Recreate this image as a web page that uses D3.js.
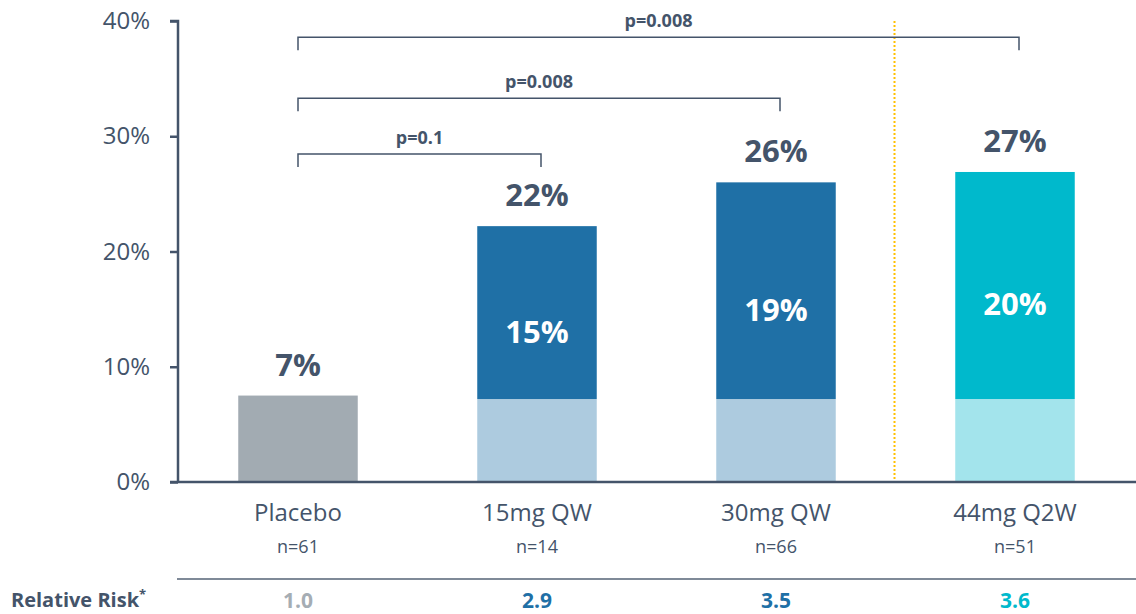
<!DOCTYPE html>
<html>
<head>
<meta charset="utf-8">
<script src="https://cdn.jsdelivr.net/npm/d3@7"></script>
<style>
  body { margin: 0; background: #fff; }
  svg { font-family: "Open Sans", Lato, sans-serif; }
</style>
</head>
<body>
<svg width="1136" height="614"></svg>
<script>
// data
var groups = ["Placebo", "15mg QW", "30mg QW", "44mg Q2W"];
var sizes = ["n=61", "n=14", "n=66", "n=51"];
var totals = [7.5, 22.2, 26.0, 26.9];
var baseRate = [7.5, 7.2, 7.2, 7.2];
var totalLabels = ["7%", "22%", "26%", "27%"];
var excessLabels = ["", "15%", "19%", "20%"];
var relRisk = ["1.0", "2.9", "3.5", "3.6"];
var yTicks = [0, 10, 20, 30, 40];
var pTests = [
  { from: "Placebo", to: "15mg QW", label: "p=0.1", level: 28.45 },
  { from: "Placebo", to: "30mg QW", label: "p=0.008", level: 33.3 },
  { from: "Placebo", to: "44mg Q2W", label: "p=0.008", level: 38.6 }
];

var dark = "#44546a";
var topColors = ["#a2abb2", "#1f70a6", "#1f70a6", "#00b9cc"];
var baseColors = ["#a2abb2", "#adcbdf", "#adcbdf", "#a3e4ec"];
var rrColors = ["#a5adb4", "#1f70a6", "#1f70a6", "#00b9cc"];

var svg = d3.select("svg");

var xScale = d3.scaleBand()
  .domain(groups)
  .range([178.5, 1134.5])
  .paddingInner(0.5)
  .paddingOuter(0.25);

var yScale = d3.scaleLinear()
  .domain([0, 40])
  .range([482, 21]);

var cx = function(g) { return xScale(g) + xScale.bandwidth() / 2; };

// y axis
var yAxis = d3.axisLeft(yScale)
  .tickValues(yTicks)
  .tickFormat(function(d) { return d + "%"; })
  .tickSize(8)
  .tickPadding(20);

var ya = svg.append("g")
  .attr("transform", "translate(178,0)")
  .call(yAxis);
ya.select(".domain").attr("stroke", dark).attr("stroke-width", 2.5)
  .attr("d", "M-8," + yScale(40) + "H0V" + yScale(0));
ya.selectAll(".tick line").attr("stroke", dark).attr("stroke-width", 2.5);
ya.selectAll(".tick text").attr("fill", dark)
  .style("font-family", "'Open Sans', sans-serif")
  .style("font-size", "24px");

// gold dotted divider
var divX = cx("30mg QW") + xScale.step() / 2 - 1;
svg.append("line")
  .attr("x1", divX).attr("x2", divX)
  .attr("y1", yScale(40)).attr("y2", yScale(0))
  .attr("stroke", "#ffc000").attr("stroke-width", 2)
  .attr("stroke-dasharray", "2,2");

// bars: lower (placebo-level) part
svg.selectAll("rect.base")
  .data(groups)
  .enter()
  .append("rect")
  .attr("class", "base")
  .attr("x", function(d) { return xScale(d); })
  .attr("width", xScale.bandwidth())
  .attr("y", function(d, i) { return yScale(baseRate[i]); })
  .attr("height", function(d, i) { return yScale(0) - yScale(baseRate[i]); })
  .attr("fill", function(d, i) { return baseColors[i]; });

// upper (excess) part
svg.selectAll("rect.top")
  .data(groups)
  .enter()
  .append("rect")
  .attr("class", "top")
  .attr("x", function(d) { return xScale(d); })
  .attr("width", xScale.bandwidth())
  .attr("y", function(d, i) { return yScale(totals[i]); })
  .attr("height", function(d, i) { return Math.max(0, yScale(baseRate[i]) - yScale(totals[i])); })
  .attr("fill", function(d, i) { return topColors[i]; });

// baseline
svg.append("line")
  .attr("x1", 170).attr("x2", 1136)
  .attr("y1", yScale(0)).attr("y2", yScale(0))
  .attr("stroke", dark).attr("stroke-width", 2.5);

// value labels
svg.selectAll("text.total")
  .data(groups)
  .enter()
  .append("text")
  .attr("class", "total")
  .attr("x", cx)
  .attr("y", function(d, i) { return yScale(totals[i]) - 20; })
  .attr("text-anchor", "middle")
  .attr("fill", dark)
  .style("font-size", "31px")
  .style("font-weight", "bold")
  .text(function(d, i) { return totalLabels[i]; });

svg.selectAll("text.excess")
  .data(groups)
  .enter()
  .append("text")
  .attr("class", "excess")
  .attr("x", cx)
  .attr("y", function(d, i) { return (yScale(totals[i]) + yScale(baseRate[i])) / 2 + 30; })
  .attr("text-anchor", "middle")
  .attr("fill", "white")
  .style("font-size", "31px")
  .style("font-weight", "bold")
  .text(function(d, i) { return excessLabels[i]; });

// significance brackets
pTests.forEach(function(p) {
  var x1 = cx(p.from), x2 = cx(p.to) + 4, y = yScale(p.level);
  svg.append("path")
    .attr("d", "M" + x1 + "," + (y + 13) + "V" + y + "H" + x2 + "V" + (y + 13))
    .attr("fill", "none")
    .attr("stroke", dark)
    .attr("stroke-width", 1.5);
  svg.append("text")
    .attr("x", (x1 + x2) / 2)
    .attr("y", y - 10)
    .attr("text-anchor", "middle")
    .attr("fill", dark)
    .style("font-size", "18px")
    .style("font-weight", "bold")
    .text(p.label);
});

// category labels
svg.selectAll("text.cat")
  .data(groups)
  .enter()
  .append("text")
  .attr("class", "cat")
  .attr("x", cx)
  .attr("y", 521)
  .attr("text-anchor", "middle")
  .attr("fill", dark)
  .style("font-size", "24px")
  .text(function(d) { return d; });

svg.selectAll("text.n")
  .data(groups)
  .enter()
  .append("text")
  .attr("class", "n")
  .attr("x", cx)
  .attr("y", 553)
  .attr("text-anchor", "middle")
  .attr("fill", dark)
  .style("font-size", "18px")
  .text(function(d, i) { return sizes[i]; });

// relative risk row
svg.append("line")
  .attr("x1", 177).attr("x2", 1136)
  .attr("y1", 579).attr("y2", 579)
  .attr("stroke", "#7f8a98").attr("stroke-width", 2);

var rr = svg.append("text")
  .attr("x", 11)
  .attr("y", 607)
  .attr("fill", dark)
  .style("font-size", "20px")
  .style("font-weight", "bold");
rr.append("tspan").text("Relative Risk");
rr.append("tspan").attr("dy", -8).style("font-size", "13px").text("*");

svg.selectAll("text.rr")
  .data(groups)
  .enter()
  .append("text")
  .attr("class", "rr")
  .attr("x", cx)
  .attr("y", 608)
  .attr("text-anchor", "middle")
  .attr("fill", function(d, i) { return rrColors[i]; })
  .style("font-size", "21px")
  .style("font-weight", "bold")
  .text(function(d, i) { return relRisk[i]; });
</script>
</body>
</html>
